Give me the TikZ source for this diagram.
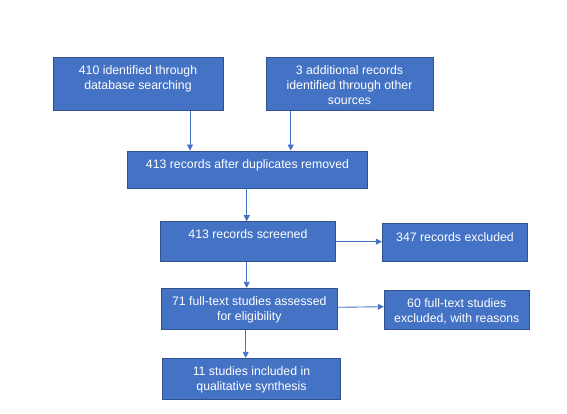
\documentclass[tikz,border=0pt]{standalone}
\usepackage{fontspec}
\setmainfont{Liberation Sans}
\usetikzlibrary{arrows.meta}
\definecolor{boxfill}{HTML}{4472C4}
\definecolor{boxline}{HTML}{2F528F}
\definecolor{arrowc}{HTML}{4472C4}
\tikzset{
  box/.style={draw=boxline, fill=boxfill, line width=0.9pt, rectangle, inner sep=0pt},
  txt/.style={text=white, font=\fontsize{12.3}{15}\selectfont, align=center, inner sep=0pt, anchor=north},
  arr/.style={draw=arrowc, line width=0.9pt, -{Triangle[length=6pt,width=6pt]}}
}
\begin{document}
\begin{tikzpicture}[x=1pt,y=1pt]
\useasboundingbox[fill=white] (0,0) rectangle (567,414);
\node[box, minimum width=170pt, minimum height=53.5pt] (b1) at (138,330.25) {};
\node[txt] (t1) at ([yshift=-8.5pt]b1.north) {410 identified through\\database searching};
\node[box, minimum width=167pt, minimum height=53.5pt] (b2) at (349.5,330.25) {};
\node[txt] (t2) at ([yshift=-8.5pt]b2.north) {3 additional records\\identified through other\\sources};
\node[box, minimum width=240.4pt, minimum height=37pt] (b3) at (247.5,244.5) {};
\node[txt] (t3) at ([yshift=-8.5pt]b3.north) {413 records after duplicates removed};
\node[box, minimum width=175.7pt, minimum height=40pt] (b4) at (247.9,172.3) {};
\node[txt] (t4) at ([yshift=-8.5pt]b4.north) {413 records screened};
\node[box, minimum width=145.4pt, minimum height=38.4pt] (b5) at (455,171.5) {};
\node[txt] (t5) at ([yshift=-9.5pt]b5.north) {347 records excluded};
\node[box, minimum width=176.7pt, minimum height=41pt] (b6) at (249.3,105.2) {};
\node[txt] (t6) at ([yshift=-8.5pt]b6.north) {71 full-text studies assessed\\for eligibility};
\node[box, minimum width=145pt, minimum height=39.3pt] (b7) at (456.8,104.3) {};
\node[txt] (t7) at ([yshift=-8.5pt]b7.north) {60 full-text studies\\excluded, with reasons};
\node[box, minimum width=178.4pt, minimum height=41pt] (b8) at (251.5,35.2) {};
\node[txt] (t8) at ([yshift=-8.5pt]b8.north) {11 studies included in\\qualitative synthesis};
\draw[arr] (b1.south -| 190,0) -- (b3.north -| 190,0);
\draw[arr] (b2.south -| 290.7,0) -- (b3.north -| 290.7,0);
\draw[arr] (b3.south -| 246.7,0) -- (b4.north -| 246.7,0);
\draw[arr] (b4.east |- 0,172.3) -- (b5.west |- 0,172.3);
\draw[arr] (b4.south -| 246.7,0) -- (b6.north -| 246.7,0);
\draw[arr] (b6.east |- 0,106.7) -- (b7.west |- 0,107.3);
\draw[arr] (b6.south -| 245.7,0) -- (b8.north -| 245.7,0);
\end{tikzpicture}
\end{document}
